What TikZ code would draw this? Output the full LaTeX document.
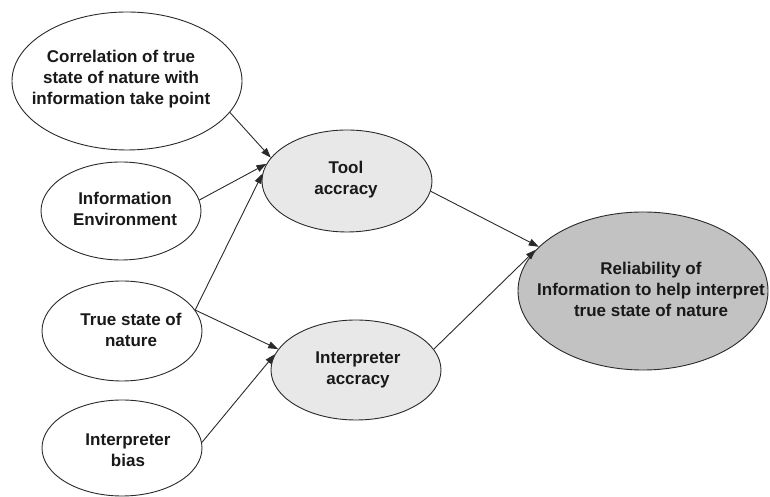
\documentclass[tikz,border=0pt]{standalone}
\usepackage{fontspec}
\setmainfont{Liberation Sans}
\usetikzlibrary{shapes.geometric,arrows.meta}

\definecolor{edgegray}{HTML}{2A2A2A}
\definecolor{lightfill}{HTML}{E8E8E8}
\definecolor{darkfill}{HTML}{C2C2C2}

\tikzset{
  oval/.style={ellipse, draw=edgegray, line width=0.9pt, fill=white, inner sep=0pt},
  ovalA/.style={oval, fill=lightfill},
  ovalB/.style={oval, fill=darkfill},
  txt/.style={align=center, inner sep=0pt, text=black!90,
              font=\fontsize{17}{21}\selectfont\bfseries},
  link/.style={draw=edgegray, line width=0.9pt,
               -{Triangle[length=10pt,width=7pt]}}
}

\begin{document}
\begin{tikzpicture}[x=1pt,y=1pt]
\useasboundingbox (0,0) rectangle (770,497);

% ellipses (centres given as x, 497 - y)
\node[oval,  minimum width=230pt, minimum height=138pt] (corr) at (127,416) {};
\node[oval,  minimum width=160pt, minimum height=98pt]  (env)  at (121,286) {};
\node[oval,  minimum width=160pt, minimum height=100pt] (true) at (122,166) {};
\node[oval,  minimum width=160pt, minimum height=96pt]  (bias) at (122,49)  {};
\node[ovalA, minimum width=170pt, minimum height=102pt] (tool) at (347,316) {};
\node[ovalA, minimum width=170pt, minimum height=100pt] (intp) at (356,127) {};
\node[ovalB, minimum width=250pt, minimum height=158pt] (rel)  at (643,206) {};

% labels
\node[txt] (corrT) at (121,418) {Correlation of true\\state of nature with\\information take point};
\node[txt] (envT)  at (125,288) {Information\\Environment};
\node[txt] (trueT) at (131,167) {True state of\\nature};
\node[txt] (biasT) at (128,47)  {Interpreter\\bias};
\node[txt] (toolT) at (346,317) {Tool\\accracy};
\node[txt] (intpT) at (358,127) {Interpreter\\accracy};
\node[txt] (relT)  at (651,208) {Reliability of\\Information to help interpret\\true state of nature};

% connectors
\draw[link] (corr.-17)  -- (tool.163);
\draw[link] (env.8)     -- (tool.168);
\draw[link] (true.16)   -- (tool.175);
\draw[link] (true.16)   -- (intp.165);
\draw[link] (bias.4)    -- (intp.169);
\draw[link] (tool.-7)   -- (rel.157);
\draw[link] (intp.15)   -- (rel.159);
\end{tikzpicture}
\end{document}
